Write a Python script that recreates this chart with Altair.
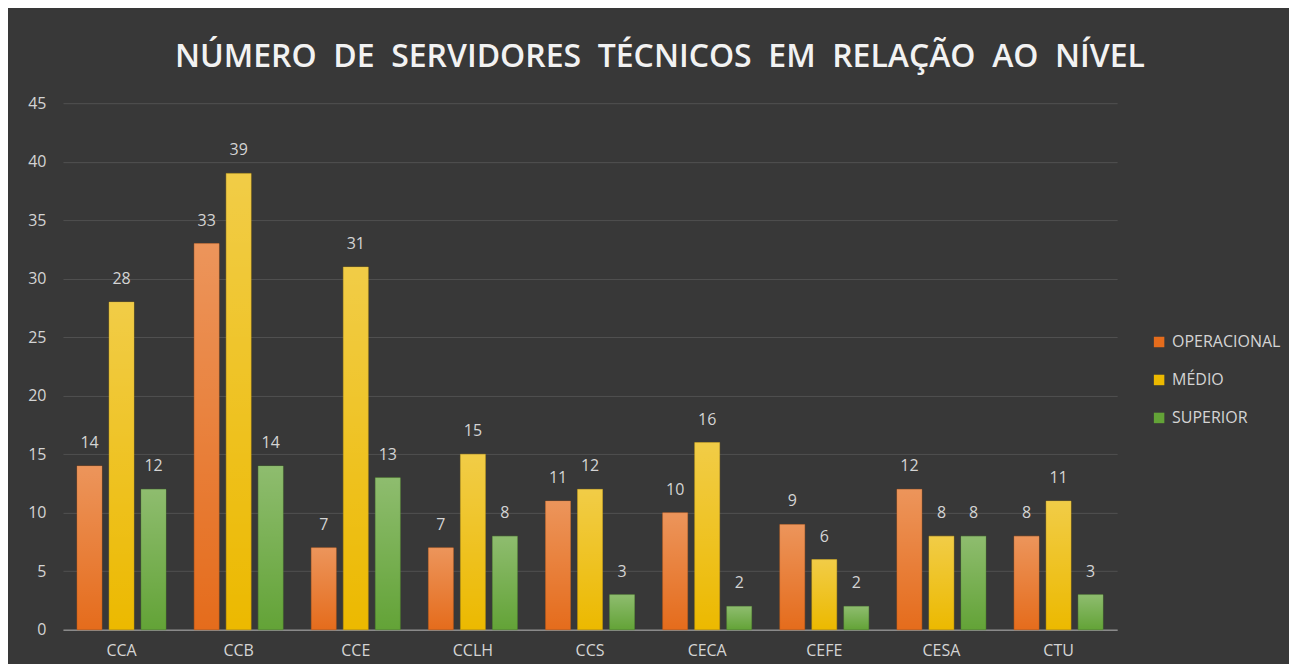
import altair as alt
import pandas as pd

centros = ["CCA", "CCB", "CCE", "CCLH", "CCS", "CECA", "CEFE", "CESA", "CTU"]
niveis = ["OPERACIONAL", "MÉDIO", "SUPERIOR"]
operacional = [14, 33, 7, 7, 11, 10, 9, 12, 8]
medio = [28, 39, 31, 15, 12, 16, 6, 8, 11]
superior = [12, 14, 13, 8, 3, 2, 2, 8, 3]
y_ticks = [0, 5, 10, 15, 20, 25, 30, 35, 40, 45]
cores = ["#e56c1c", "#ecb900", "#63a337"]

rows = []
for nivel, vals in zip(niveis, [operacional, medio, superior]):
    for c, v in zip(centros, vals):
        rows.append({"centro": c, "nivel": nivel, "valor": v})
df = pd.DataFrame(rows)

FONT = "Open Sans"
TXT = "#d4d4d4"
SP = "\u00a0\u00a0"
titulo = SP.join(["NÚMERO", "DE", "SERVIDORES", "TÉCNICOS", "EM", "RELAÇÃO", "AO", "NÍVEL"])

x_enc = alt.X("centro:N", sort=centros, title=None,
              scale=alt.Scale(paddingInner=0.24, paddingOuter=0.12),
              axis=alt.Axis(labelAngle=0, labelColor=TXT, labelFontSize=16, labelFont=FONT,
                            labelPadding=13, ticks=False, domainColor="#8a8a8a",
                            domainWidth=1.5, grid=False))
xoff_enc = alt.XOffset("nivel:N", sort=niveis,
                       scale=alt.Scale(domain=niveis, paddingInner=0.22, paddingOuter=0))
y_enc = alt.Y("valor:Q", title=None,
              scale=alt.Scale(domain=[0, 45], nice=False),
              axis=alt.Axis(values=y_ticks, labelColor=TXT, labelFontSize=16, labelFont=FONT,
                            labelPadding=17, ticks=False, domain=False,
                            gridColor="#505050", gridWidth=1))

base = alt.Chart(df).encode(x=x_enc, xOffset=xoff_enc, y=y_enc)

bars = base.mark_bar(strokeWidth=0.8, strokeOpacity=0.6).encode(
    color=alt.Color("nivel:N", sort=niveis,
                    scale=alt.Scale(domain=niveis, range=cores),
                    legend=alt.Legend(title=None, orient="none", legendX=1089, legendY=231,
                                      symbolType="square", symbolSize=110,
                                      symbolStrokeWidth=0, labelColor=TXT,
                                      labelFontSize=16, labelFont=FONT, labelOffset=5,
                                      rowPadding=22)),
    stroke=alt.Color("nivel:N", sort=niveis,
                     scale=alt.Scale(domain=niveis, range=["#c85a10", "#c99c00", "#4e8a28"]),
                     legend=None),
)

shine = base.mark_bar(
    fill=alt.Gradient(
        gradient="linear",
        stops=[alt.GradientStop(color="rgba(255,255,255,0.28)", offset=0),
               alt.GradientStop(color="rgba(255,255,255,0.0)", offset=1)],
        x1=0, x2=0, y1=0, y2=1,
    )
)

labels = base.mark_text(dy=-18, baseline="alphabetic", color=TXT, fontSize=16, font=FONT).encode(
    text="valor:Q"
)

chart = alt.layer(bars, shine, labels).properties(
    width=1055,
    height=527,
    title=alt.Title(titulo,
                    fontSize=32, font=FONT, fontWeight=600, color="#f2f2f2",
                    anchor="middle", dx=70, offset=21),
    padding={"left": 19, "top": 33, "right": 8, "bottom": 5},
    background="#383838",
).configure_view(stroke=None)

chart.save("out.html", embed_options={"renderer": "svg", "actions": False})
